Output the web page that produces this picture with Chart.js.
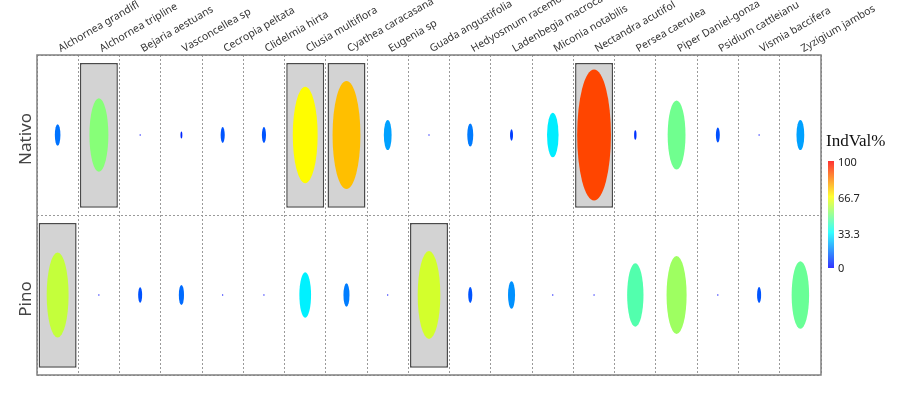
<!DOCTYPE html>
<html>
<head>
<meta charset="utf-8">
<script src="https://cdn.jsdelivr.net/npm/chart.js@4.4.1/dist/chart.umd.min.js"></script>
<style>
  html, body { margin: 0; padding: 0; background: #fff; }
  #wrap { width: 900px; height: 394px; position: relative; }
</style>
</head>
<body>
<div id="wrap"><canvas id="indvalChart"></canvas></div>
<script>
// species (column labels, truncated as in the figure)
const species = [
    "Alchornea grandifl", "Alchornea tripline", "Bejaria aestuans", "Vasconcellea sp",
    "Cecropia peltata", "Clidelmia hirta", "Clusia multiflora", "Cyathea caracasana",
    "Eugenia sp", "Guada angustifolia", "Hedyosmum racemosu", "Ladenbegia macroca",
    "Miconia notabilis", "Nectandra acutifol", "Persea caerulea", "Piper Daniel-gonza",
    "Psidium cattleianu", "Vismia baccifera", "Zyzigium jambos",
];
const rows = ["Nativo", "Pino"];

// IndVal % per habitat
const nativoVals = [15, 51, 1, 5, 11, 11, 67, 75, 21, 1, 16, 8, 31, 91, 6.5, 48, 10.5, 1, 21];
const pinoVals = [59, 1, 10.7, 14, 1, 1, 31.5, 16.3, 1, 61, 11, 19, 1, 1, 44, 54, 1, 11, 47];

// significant indicator species (gray boxes)
const nativoSig = [0, 1, 0, 0, 0, 0, 1, 1, 0, 0, 0, 0, 0, 1, 0, 0, 0, 0, 0];
const pinoSig = [1, 0, 0, 0, 0, 0, 0, 0, 0, 1, 0, 0, 0, 0, 0, 0, 0, 0, 0];

const legendTicks = [0, 33.3, 66.7, 100];

// blue -> cyan -> yellow -> red
const colorStops = [
    [0, [0, 0, 255]],
    [33.3, [0, 255, 255]],
    [66.7, [255, 255, 0]],
    [100, [255, 0, 0]],
];

function valueColor(v) {
    for (let i = 1; i < colorStops.length; i++) {
        const [v1, c1] = colorStops[i];
        const [v0, c0] = colorStops[i - 1];
        if (v <= v1 || i === colorStops.length - 1) {
            const t = Math.max(0, Math.min(1, (v - v0) / (v1 - v0)));
            const c = c0.map((a, k) => Math.round(a + (c1[k] - a) * t));
            return `rgb(${c[0]},${c[1]},${c[2]})`;
        }
    }
}

const boxData = (sig, row) => sig.map((s) => (s ? [row + 0.05, row + 0.955] : null));
const pointData = (vals, row) => vals.map((v, i) => ({ x: species[i], y: row + 0.5, v: v }));

// draws each value as an ellipse sized through the scales
const ellipsePlugin = {
    id: "ellipses",
    afterDatasetsDraw(chart) {
        const { ctx, scales } = chart;
        const xs = scales.x, ys = scales.y;
        chart.data.datasets.forEach((ds, di) => {
            if (ds.type !== "scatter") return;
            const meta = chart.getDatasetMeta(di);
            meta.data.forEach((pt, i) => {
                const v = ds.data[i].v;
                const rx = Math.abs(xs.getPixelForValue(0.45 * v / 100) - xs.getPixelForValue(0));
                const ry = Math.abs(ys.getPixelForValue(0.45 * v / 100) - ys.getPixelForValue(0));
                ctx.save();
                ctx.fillStyle = valueColor(v);
                ctx.beginPath();
                ctx.ellipse(pt.x, pt.y, Math.max(rx, 0.6), Math.max(ry, 0.8), 0, 0, Math.PI * 2);
                ctx.fill();
                ctx.restore();
            });
        });
    },
};

// frame, row labels, colour key
const decorPlugin = {
    id: "decor",
    afterDraw(chart) {
        const { ctx, chartArea, scales } = chart;
        ctx.save();
        ctx.strokeStyle = "#808080";
        ctx.lineWidth = 1.5;
        ctx.strokeRect(chartArea.left, chartArea.top, chartArea.right - chartArea.left, chartArea.bottom - chartArea.top);

        // row labels
        ctx.fillStyle = "#444";
        ctx.font = '17px "Noto Sans"';
        ctx.textAlign = "center";
        ctx.textBaseline = "middle";
        rows.forEach((r, i) => {
            const y = scales.y.getPixelForValue(i + 0.5) + 4;
            ctx.save();
            ctx.translate(chartArea.left - 11, y);
            ctx.rotate(-Math.PI / 2);
            ctx.fillText(r, 0, 0);
            ctx.restore();
        });

        // colour key
        const kx = 828, kTop = 161, kBot = 268, kw = 6;
        ctx.fillStyle = "#111";
        ctx.font = '17px "Liberation Serif"';
        ctx.textAlign = "left";
        ctx.textBaseline = "alphabetic";
        ctx.fillText("IndVal%", 826, 146);
        const grad = ctx.createLinearGradient(0, kBot, 0, kTop);
        colorStops.forEach(([v]) => grad.addColorStop(v / 100, valueColor(v)));
        ctx.globalAlpha = 0.8;
        ctx.fillStyle = grad;
        ctx.fillRect(kx, kTop, kw, kBot - kTop);
        ctx.globalAlpha = 1;
        ctx.fillStyle = "#222";
        ctx.font = '11px "Noto Sans"';
        ctx.textBaseline = "middle";
        legendTicks.forEach((t) => {
            const y = kBot - (t / 100) * (kBot - kTop);
            ctx.fillText(String(t), kx + 10, t === 0 ? y + 1 : y + 2);
        });
        ctx.restore();
    },
};

const barStyle = {
    type: "bar",
    grouped: false,
    backgroundColor: "#d3d3d3",
    borderColor: "#4a4a4a",
    borderWidth: 1.5,
    borderSkipped: false,
    categoryPercentage: 0.92,
    barPercentage: 1,
};

const indvalChart = new Chart(document.getElementById("indvalChart"), {
    type: "bar",
    data: {
        labels: species,
        datasets: [
            { ...barStyle, label: "Nativo sig", data: boxData(nativoSig, 0) },
            { ...barStyle, label: "Pino sig", data: boxData(pinoSig, 1) },
            { type: "scatter", label: "Nativo", data: pointData(nativoVals, 0), pointRadius: 0 },
            { type: "scatter", label: "Pino", data: pointData(pinoVals, 1), pointRadius: 0 },
        ],
    },
    options: {
        responsive: true,
        maintainAspectRatio: false,
        animation: false,
        layout: {
            padding: { left: 37, right: 79, bottom: 19, top: 0 },
        },
        scales: {
            x: {
                type: "category",
                position: "top",
                offset: true,
                grid: {
                    offset: true,
                    color: "#9a9a9a",
                    drawTicks: false,
                },
                border: { display: false, dash: [2, 2] },
                ticks: {
                    autoSkip: false,
                    minRotation: 30,
                    maxRotation: 30,
                    padding: 0,
                    labelOffset: 8,
                    color: "#333",
                    font: { family: "Noto Sans", size: 10.5 },
                },
                afterFit: (scale) => {
                    scale.height = 55;
                },
            },
            y: {
                type: "linear",
                min: 0,
                max: 2,
                reverse: true,
                ticks: { display: false, stepSize: 1 },
                grid: {
                    color: "#9a9a9a",
                    drawTicks: false,
                },
                border: { display: false, dash: [2, 2] },
                afterFit: (scale) => {
                    scale.width = 0;
                },
            },
        },
        plugins: {
            legend: { display: false },
            tooltip: { enabled: false },
        },
    },
    plugins: [ellipsePlugin, decorPlugin],
});
</script>
</body>
</html>
